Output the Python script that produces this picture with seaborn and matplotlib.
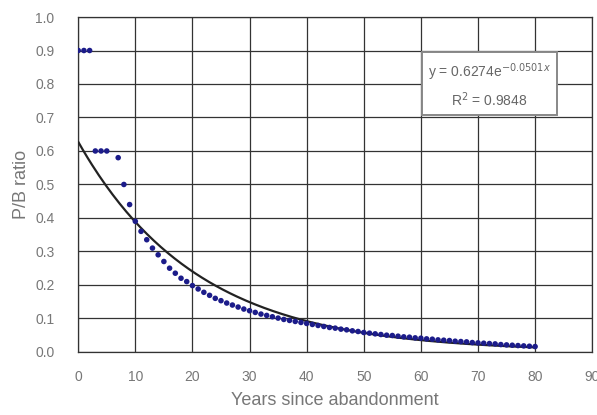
import numpy as np
import pandas as pd
import seaborn as sns
import matplotlib.pyplot as plt

# P/B ratio (year 6 has no point)
years = [0, 1, 2, 3, 4, 5, 7, 8, 9,
         10, 11, 12, 13, 14, 15, 16, 17, 18, 19,
         20, 21, 22, 23, 24, 25, 26, 27, 28, 29,
         30, 31, 32, 33, 34, 35, 36, 37, 38, 39,
         40, 41, 42, 43, 44, 45, 46, 47, 48, 49,
         50, 51, 52, 53, 54, 55, 56, 57, 58, 59,
         60, 61, 62, 63, 64, 65, 66, 67, 68, 69,
         70, 71, 72, 73, 74, 75, 76, 77, 78, 79, 80]
pb_ratio = [0.90, 0.90, 0.90, 0.60, 0.60, 0.60, 0.58, 0.50, 0.44,
            0.39, 0.36, 0.335, 0.31, 0.29, 0.27, 0.25, 0.235, 0.22, 0.21,
            0.198, 0.188, 0.178, 0.169, 0.16, 0.153, 0.146, 0.14, 0.134, 0.128,
            0.123, 0.118, 0.113, 0.109, 0.105, 0.101, 0.097, 0.094, 0.091, 0.088,
            0.085, 0.082, 0.079, 0.076, 0.073, 0.071, 0.068, 0.066, 0.063, 0.061,
            0.058, 0.056, 0.054, 0.052, 0.050, 0.049, 0.047, 0.045, 0.044, 0.042,
            0.041, 0.039, 0.038, 0.036, 0.035, 0.034, 0.032, 0.031, 0.030, 0.028,
            0.027, 0.026, 0.025, 0.024, 0.022, 0.021, 0.020, 0.019, 0.018, 0.017, 0.016]

# exponential trendline shown in the chart
fit_a = 0.6274
fit_b = 0.048
fit_label = "y = 0.6274e$^{-0.0501x}$\nR$^2$ = 0.9848"

df = pd.DataFrame({"years": years, "pb": pb_ratio})
xs = np.linspace(0, 80, 200)
fit = pd.DataFrame({"years": xs, "pb": fit_a * np.exp(-fit_b * xs)})

sns.set_style("white")
plt.rcParams['font.family'] = ['Liberation Sans', 'DejaVu Sans']

fig = plt.figure(figsize=(5.97, 4.15), dpi=100)
ax = fig.add_axes([0.131, 0.152, 0.861, 0.807])

sns.lineplot(data=fit, x="years", y="pb", color="#222222", linewidth=1.6, ax=ax, zorder=3)
sns.scatterplot(data=df, x="years", y="pb", color="#1c1c8a", s=16, edgecolor="none", ax=ax, zorder=4)

ax.set_xlim(0, 90)
ax.set_ylim(0, 1.0)
ax.set_xticks(np.arange(0, 91, 10))
ax.set_yticks(np.arange(0, 1.01, 0.1))
ax.set_yticklabels([f"{v:.1f}" for v in np.arange(0, 1.01, 0.1)])
ax.grid(True, color="#333333", linewidth=0.9)
ax.set_axisbelow(True)
for s in ax.spines.values():
    s.set_color("#333333")
    s.set_linewidth(0.9)
ax.tick_params(length=0, labelsize=10, labelcolor="#777777")
ax.tick_params(axis="x", pad=13)
ax.tick_params(axis="y", pad=17)

ax.set_xlabel("Years since abandonment", fontsize=13, color="#777777", labelpad=6)
ax.set_ylabel("P/B ratio", fontsize=13, color="#777777", labelpad=4)

ax.text(72, 0.797, fit_label,
        fontsize=10, color="#666666", ha="center", va="center", linespacing=1.5,
        bbox=dict(boxstyle="square,pad=0.45", facecolor="white", edgecolor="#888888", linewidth=1.4),
        zorder=5)

fig.savefig("out.png", dpi=100)
